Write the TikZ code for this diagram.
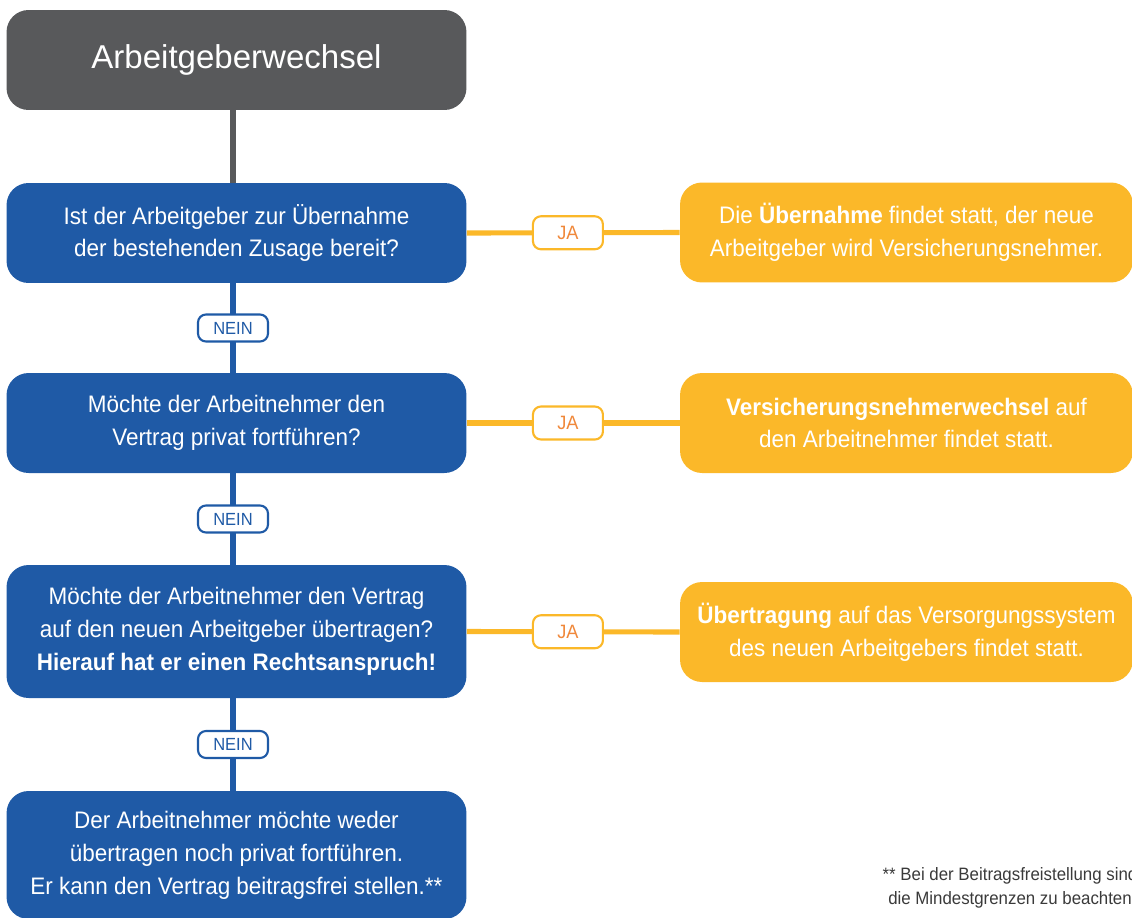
\documentclass[tikz,border=0pt]{standalone}
\usepackage{fontspec}
\setmainfont[FakeStretch=0.94]{Liberation Sans}
\newfontfamily\titlefont{Liberation Sans}
\usetikzlibrary{positioning}

\definecolor{ggray}{HTML}{58595B}
\definecolor{gblue}{HTML}{1F5AA6}
\definecolor{gorange}{HTML}{FBB829}
\definecolor{jatext}{HTML}{F0883A}
\definecolor{notegray}{HTML}{3A3A3A}

\begin{document}
\begin{tikzpicture}[x=0.02cm,y=-0.02cm,
    box/.style={rounded corners=0.44cm,minimum width=9.2cm,minimum height=2cm,
      text=white,align=center,font=\fontsize{13.6}{18.7}\selectfont},
    question/.style={box,fill=gblue},
    answer/.style={box,fill=gorange,minimum width=9.06cm},
    nein/.style={draw=gblue,fill=white,line width=1.2pt,rounded corners=0.16cm,
      minimum width=1.4cm,minimum height=0.54cm,inner sep=0pt,text=gblue,
      font=\fontsize{10}{12}\selectfont},
    ja/.style={nein,draw=gorange,text=jatext,minimum height=0.66cm,
      font=\fontsize{11}{13}\selectfont},
    yes/.style={gorange,line width=2.9pt},
    no/.style={gblue,line width=2.9pt}]

  \useasboundingbox (0,0) rectangle (1132,917);
  \clip (0,0) rectangle (1132,917);

  \coordinate (spine) at (233,0);

  \node[box,fill=ggray,font=\titlefont\fontsize{18.8}{22}\selectfont] (start) at (236.5,60) {Arbeitgeberwechsel};

  % questions
  \node[question] (q1) at (236.5,233) {Ist der Arbeitgeber zur Übernahme\\der bestehenden Zusage bereit?};
  \node[question] (q2) at (236.5,423) {Möchte der Arbeitnehmer den\\Vertrag privat fortführen?};
  \node[question,minimum height=2.66cm] (q3) at (236.5,631.5)
    {Möchte der Arbeitnehmer den Vertrag\\auf den neuen Arbeitgeber übertragen?\\\textbf{Hierauf hat er einen Rechtsanspruch!}};
  \node[question,minimum height=2.56cm] (q4) at (236.5,855)
    {Der Arbeitnehmer möchte weder\\übertragen noch privat fortführen.\\Er kann den Vertrag beitragsfrei stellen.**};

  % answers
  \node[answer] (a1) at (906.5,232.5) {Die \textbf{Übernahme} findet statt, der neue\\Arbeitgeber wird Versicherungsnehmer.};
  \node[answer] (a2) at (906.5,423) {\textbf{Versicherungsnehmerwechsel} auf\\den Arbeitnehmer findet statt.};
  \node[answer] (a3) at (906.5,632) {\textbf{Übertragung} auf das Versorgungssystem\\des neuen Arbeitgebers findet statt.};

  \draw[ggray,line width=2.9pt] (start.south -| spine) -- (q1.north -| spine);
  \draw[no] (q1.south -| spine) -- (q2.north -| spine) node[midway,nein] (n1) {NEIN};
  \draw[no] (q2.south -| spine) -- (q3.north -| spine) node[midway,nein] (n2) {NEIN};
  \draw[no] (q3.south -| spine) -- (q4.north -| spine) node[midway,nein] (n3) {NEIN};

  \foreach \i in {1,2,3}
    \draw[yes] (q\i.east) -- (a\i.west) node[pos=0.475,ja] (j\i) {JA};

  \node[align=center,text=notegray,font=\fontsize{10.2}{13.6}\selectfont] (note) at (1010,888)
    {** Bei der Beitragsfreistellung sind\\die Mindestgrenzen zu beachten};
\end{tikzpicture}
\end{document}
